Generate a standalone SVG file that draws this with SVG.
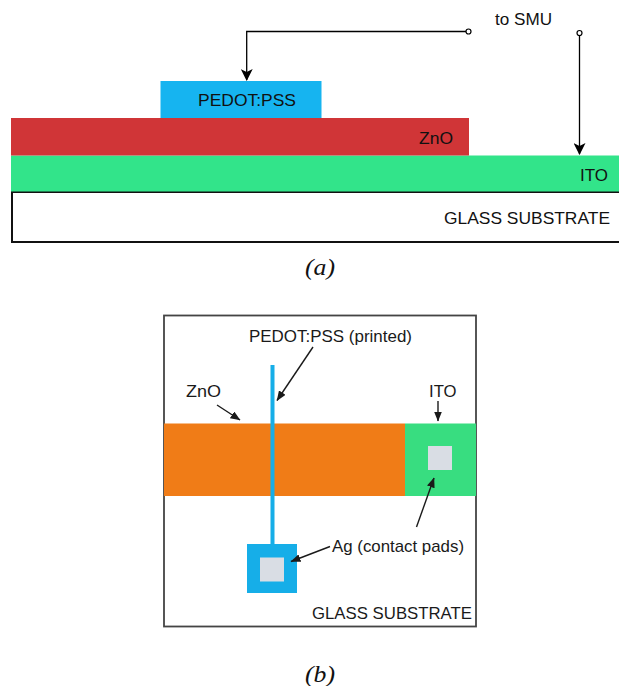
<svg xmlns="http://www.w3.org/2000/svg" width="619" height="686" viewBox="0 0 619 686">
  <defs>
    <marker id="ahA" viewBox="0 0 12 12" refX="11" refY="6" markerWidth="12" markerHeight="12" markerUnits="userSpaceOnUse" orient="auto">
      <path d="M0,0 L12,6 L0,12 L3,6 Z" fill="#000"/>
    </marker>
    <marker id="ahB" viewBox="0 0 10 8" refX="9.5" refY="4" markerWidth="10" markerHeight="8" markerUnits="userSpaceOnUse" orient="auto">
      <path d="M0,0 L10,4 L0,8 Z" fill="#1a1a1a"/>
    </marker>
    <style>
      .t { font-family: Arial, "Liberation Sans", Helvetica, sans-serif; fill: #111; }
      .ta { font-size: 17px; }
      .tb { font-size: 17px; fill: #1a1a1a; }
      .cap { font-family: "Times New Roman", "Liberation Serif", serif; font-style: italic; font-size: 23px; fill: #111; }
      .wire { fill: none; stroke: #000; stroke-width: 1.3; }
      .ptr { fill: none; stroke: #1a1a1a; stroke-width: 1.4; }
      .term { fill: #fff; stroke: #000; stroke-width: 1.2; }
    </style>
  </defs>

  <!-- (a) cross-section -->
  <g id="glass-a">
    <rect x="12" y="192" width="612" height="50" fill="#fff" stroke="#111" stroke-width="2"/>
    <text class="t ta" x="444" y="223.5" textLength="166" lengthAdjust="spacingAndGlyphs">GLASS SUBSTRATE</text>
  </g>
  <g id="ito-a">
    <rect x="11" y="155.5" width="608" height="36" fill="#32e48a"/>
    <text class="t ta" x="580" y="181" textLength="28" lengthAdjust="spacingAndGlyphs">ITO</text>
  </g>
  <g id="zno-a">
    <rect x="11" y="118" width="458" height="37.5" fill="#d03537"/>
    <text class="t ta" x="419" y="143.5" textLength="34" lengthAdjust="spacingAndGlyphs">ZnO</text>
  </g>
  <g id="pedot-a">
    <rect x="160.5" y="81" width="161" height="37" fill="#16b4f0"/>
    <text class="t ta" x="198" y="106" textLength="98" lengthAdjust="spacingAndGlyphs">PEDOT:PSS</text>
  </g>
  <g id="smu-label">
    <text class="t ta" x="495" y="25" textLength="57" lengthAdjust="spacingAndGlyphs">to SMU</text>
  </g>

  <g id="connectors-a">
    <path class="wire" d="M466,31.5 H246.7 V80" marker-end="url(#ahA)"/>
    <path class="wire" d="M579.5,35.5 V154" marker-end="url(#ahA)"/>
    <circle class="term" cx="468.5" cy="31.5" r="2.5"/>
    <circle class="term" cx="579.5" cy="33" r="2.5"/>
  </g>

  <text class="cap" x="305" y="275" textLength="30" lengthAdjust="spacingAndGlyphs">(a)</text>

  <!-- (b) top view -->
  <g id="frame-b">
    <rect x="164" y="315.5" width="312" height="311" fill="#fff" stroke="#444" stroke-width="1.8"/>
  </g>
  <g id="zno-b">
    <rect x="164" y="423.5" width="241" height="72.5" fill="#f07c17"/>
  </g>
  <g id="ito-b">
    <rect x="405" y="423.5" width="71" height="72.5" fill="#38dd80"/>
    <rect x="428" y="446" width="24" height="24" fill="#d9dde4"/>
  </g>
  <g id="pedot-b">
    <rect x="270.5" y="365" width="4" height="180" fill="#16aee8"/>
    <rect x="247" y="544" width="50" height="49" fill="#16aee8"/>
    <rect x="260" y="557.5" width="24" height="24" fill="#d9dde4"/>
  </g>

  <g id="labels-b">
    <text class="t tb" x="249" y="342" textLength="163" lengthAdjust="spacingAndGlyphs">PEDOT:PSS (printed)</text>
    <text class="t tb" x="186" y="397" textLength="35" lengthAdjust="spacingAndGlyphs">ZnO</text>
    <text class="t tb" x="429" y="397" textLength="27.5" lengthAdjust="spacingAndGlyphs">ITO</text>
    <text class="t tb" x="332" y="552" textLength="132" lengthAdjust="spacingAndGlyphs">Ag (contact pads)</text>
    <text class="t tb" x="312" y="618.5" textLength="160" lengthAdjust="spacingAndGlyphs">GLASS SUBSTRATE</text>
  </g>

  <g id="connectors-b">
    <path class="ptr" d="M313,347 L277,400.5" marker-end="url(#ahB)"/>
    <path class="ptr" d="M217,405 L240,420" marker-end="url(#ahB)"/>
    <path class="ptr" d="M438,401 L438,421" marker-end="url(#ahB)"/>
    <path class="ptr" d="M330,546.5 L291,561.5" marker-end="url(#ahB)"/>
    <path class="ptr" d="M416.5,527 L434,478" marker-end="url(#ahB)"/>
  </g>

  <text class="cap" x="305" y="682" textLength="30" lengthAdjust="spacingAndGlyphs">(b)</text>
</svg>
